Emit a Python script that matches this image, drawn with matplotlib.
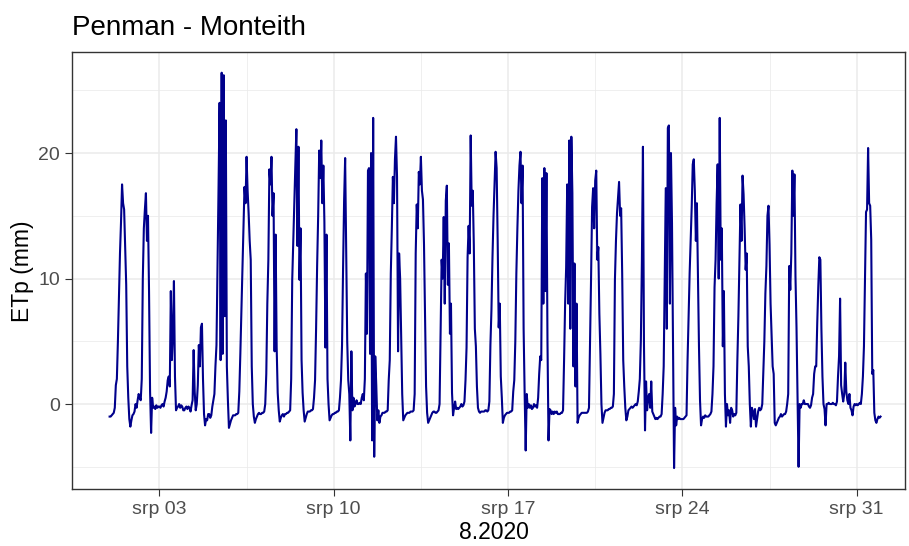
import matplotlib
matplotlib.use("Agg")
import matplotlib.pyplot as plt
import matplotlib.dates as mdates
import pandas as pd
import numpy as np

plt.rcParams['font.family'] = ['Liberation Sans', 'DejaVu Sans']

# Hourly ETp (mm) values, one list per day of August 2020 (hours 0..23)
aug01 = [-1.0,-1.0,-0.9,-0.8,-0.7,-0.3,1.5,2.0,5.0,8.5,12.0,14.5,17.5,16.0,15.5,12.5,9.5,3.0,0.5,-1.2,-1.8,-1.3,-0.9,-0.8]
aug02 = [-0.6,0.0,-0.3,0.3,0.8,0.5,0.3,2.0,10.0,14.0,15.5,16.8,13.0,15.0,9.0,1.0,-2.3,0.5,-0.3,-0.2,-0.4,-0.1,-0.3,-0.2]
aug03 = [-0.2,-0.3,-0.1,0.0,-0.2,0.2,0.5,1.0,1.9,2.2,1.4,9.0,3.5,5.5,9.8,2.2,-0.5,-0.3,-0.2,0.0,-0.3,-0.1,-0.2,-0.5]
aug04 = [-0.5,-0.3,-0.2,-0.4,-0.2,-0.3,-0.6,-0.1,0.3,4.3,1.0,-0.5,0.0,1.5,4.7,3.0,6.1,6.4,2.0,-0.8,-1.7,-1.2,-1.3,-0.8]
aug05 = [-0.8,-1.1,-0.9,-0.2,0.3,0.8,3.0,4.7,10.9,17.3,24.0,3.5,26.4,4.0,26.2,7.0,22.6,3.0,0.3,-1.9,-1.6,-1.3,-1.1,-0.9]
aug06 = [-0.9,-0.9,-0.8,-0.8,-0.7,1.0,4.0,7.5,10.7,14.1,17.3,16.0,19.7,17.0,15.2,13.0,11.5,3.0,0.0,-1.0,-1.5,-1.2,-1.0,-0.8]
aug07 = [-0.7,-0.8,-0.8,-0.7,-0.7,-0.6,0.0,2.4,8.0,11.5,18.7,17.5,19.7,15.0,16.8,4.2,13.5,4.5,0.9,-0.5,-1.4,-1.1,-0.9,-0.8]
aug08 = [-1.0,-0.8,-0.8,-0.7,-0.7,-0.6,-0.5,2.0,9.9,13.0,16.2,19.0,21.9,12.6,20.5,9.9,14.0,3.5,0.9,-0.5,-1.4,-1.1,-0.8,-0.6]
aug09 = [-0.6,-0.6,-0.5,-0.5,-0.4,0.5,1.9,6.0,11.0,15.0,20.2,18.0,21.0,16.0,19.0,14.5,4.5,13.5,2.0,0.0,-1.3,-1.1,-0.9,-0.8]
aug10 = [-0.8,-0.7,-0.7,-0.6,-0.6,-0.5,0.5,1.9,4.7,10.8,16.2,19.6,12.0,5.0,1.9,0.8,-2.9,4.2,-0.5,0.5,-0.2,0.0,0.3,0.0]
aug11 = [0.0,0.1,0.0,0.5,0.8,0.3,2.0,10.4,5.6,18.6,18.8,4.0,20.0,-2.9,22.8,-4.2,3.8,1.5,-1.3,-0.5,-1.5,-1.0,-0.9,-0.7]
aug12 = [-0.7,-0.7,-0.6,-0.6,-0.5,1.9,3.5,10.4,14.0,18.1,16.0,19.5,21.3,18.1,4.2,12.0,10.0,5.5,0.8,-1.3,-1.1,-0.9,-0.8,-0.7]
aug13 = [-0.7,-0.7,-0.6,-0.6,-0.6,-0.5,0.8,12.0,15.9,14.0,18.5,17.5,19.7,17.0,16.3,12.7,7.0,1.4,-0.7,-1.5,-1.3,-1.1,-0.9,-0.7]
aug14 = [-0.6,-0.6,-0.7,-0.7,-0.6,-0.5,0.0,5.6,11.5,10.0,14.9,8.0,16.2,17.4,9.5,12.8,5.6,8.0,0.9,-0.9,-0.3,0.2,-0.4,-0.3]
aug15 = [-0.4,-0.3,-0.2,0.0,-0.2,-0.1,0.2,1.9,4.5,11.7,14.2,12.0,21.4,15.8,17.0,12.7,6.0,4.6,1.4,-0.3,-0.6,-0.7,-0.6,-0.6]
aug16 = [-0.6,-0.6,-0.5,-0.5,-0.6,-0.5,0.2,4.7,7.5,11.7,15.0,17.5,20.1,18.8,13.0,6.1,8.0,2.2,0.5,-1.5,-1.1,-0.9,-0.8,-0.7]
aug17 = [-0.7,-0.7,-0.6,-0.6,-0.5,1.0,1.9,5.0,10.4,14.0,17.0,19.0,20.1,16.0,19.0,6.0,0.8,-3.7,0.8,-0.3,0.0,-0.3,-0.1,-0.4]
aug18 = [-0.3,0.0,-0.2,-0.1,-0.3,0.5,2.4,3.8,3.5,18.0,8.0,18.8,9.0,18.4,5.0,-2.9,-0.4,-0.5,-0.8,-0.6,-0.8,-0.6,-0.7,-0.6]
aug19 = [-0.8,-0.8,-0.8,-0.7,-0.7,-0.5,3.5,8.0,10.9,17.5,8.0,21.0,6.0,21.3,16.8,3.0,11.2,1.4,8.0,-1.5,-1.1,-0.9,-0.8,-0.7]
aug20 = [-0.7,-0.7,-0.7,-0.7,-0.7,-0.6,-0.3,4.7,10.0,15.7,17.2,14.0,17.8,18.6,11.5,12.5,7.2,4.0,0.0,-1.5,-1.1,-0.7,-0.5,-0.5]
aug21 = [-0.5,-0.4,-0.4,-0.3,-0.3,-0.2,0.8,9.9,13.0,15.2,16.5,17.7,15.0,15.6,10.4,3.5,1.4,-0.3,-1.3,-1.0,-0.5,-0.4,-0.3,-0.2]
aug22 = [-0.3,-0.2,-0.1,0.0,-0.1,0.2,1.0,2.0,5.1,11.4,20.5,4.7,-2.1,1.8,-0.5,0.5,0.8,-0.3,1.8,-0.6,-0.8,-1.0,-1.2,-1.1]
aug23 = [-1.2,-1.1,-1.0,-1.0,-0.8,0.8,3.0,10.4,17.2,6.0,22.0,22.2,8.0,20.0,14.4,4.6,-5.1,-0.3,-1.7,-1.0,-1.2,-1.1,-1.2,-1.2]
aug24 = [-1.2,-1.2,-1.1,-1.0,-0.9,3.5,7.0,10.4,13.0,15.7,19.1,19.5,17.0,13.0,16.0,10.4,4.6,0.3,-1.7,-1.2,-1.0,-1.1,-0.9,-1.0]
aug25 = [-1.0,-1.0,-0.9,-0.8,-0.6,0.8,3.0,9.3,11.5,16.0,19.1,10.0,22.8,11.5,14.0,4.6,9.0,0.8,-1.8,0.0,-0.9,-0.5,-1.5,-0.3]
aug26 = [-0.5,-1.0,-0.8,-0.9,-0.7,3.5,7.0,11.7,15.9,13.0,18.2,16.7,14.0,10.7,12.0,4.6,3.0,0.0,-1.8,-0.3,-0.6,-1.2,-0.4,-1.8]
aug27 = [-1.2,-0.6,-0.3,-0.5,-0.4,0.0,2.4,5.0,8.8,11.0,15.0,15.8,12.7,8.0,5.4,3.0,2.4,-1.5,-1.7,-1.5,-1.3,-1.1,-1.0,-0.8]
aug28 = [-1.0,-0.9,-0.8,-0.8,-0.6,0.0,0.8,11.0,9.1,12.0,18.6,15.0,18.3,10.2,6.1,0.8,-5.0,0.0,-0.3,0.0,0.0,0.3,0.0,0.0]
aug29 = [0.0,0.0,-0.2,-0.3,-0.1,0.5,0.8,2.4,3.0,3.0,6.5,9.4,11.7,11.5,6.0,2.2,0.0,-0.4,-1.7,0.0,0.0,0.1,0.0,0.0]
aug30 = [0.0,0.1,0.0,0.0,-0.1,0.2,2.2,3.8,8.4,1.5,0.8,0.2,0.8,3.3,1.0,0.3,0.0,0.8,-0.3,-0.5,-0.9,-0.2,0.0,-0.1]
aug31 = [0.0,-0.1,0.0,0.1,0.0,0.8,2.2,4.6,10.0,15.3,15.5,20.4,16.0,15.8,13.1,2.4,2.7,-0.7,-1.3,-1.5,-1.2,-1.0,-1.1,-1.0]

days = [aug01, aug02, aug03, aug04, aug05, aug06, aug07, aug08, aug09, aug10,
        aug11, aug12, aug13, aug14, aug15, aug16, aug17, aug18, aug19, aug20,
        aug21, aug22, aug23, aug24, aug25, aug26, aug27, aug28, aug29, aug30, aug31]
etp = np.concatenate([np.array(d) for d in days])
times = pd.date_range('2020-08-01 00:00', periods=len(etp), freq='h')

tick_dates = ['2020-08-03', '2020-08-10', '2020-08-17', '2020-08-24', '2020-08-31']
tick_labels = ['srp 03', 'srp 10', 'srp 17', 'srp 24', 'srp 31']
y_ticks = [0, 10, 20]
title = 'Penman - Monteith'
x_title = '8.2020'
y_title = 'ETp (mm)'

W, H = 909, 546
fig = plt.figure(figsize=(W / 100, H / 100), dpi=100)
ax = fig.add_axes([72 / W, 57 / H, 833 / W, 437 / H])
ax.set_facecolor('white')

ax.plot(times, etp, color='#00008B', lw=1.5, zorder=3)

major_x = [mdates.date2num(pd.Timestamp(d)) for d in tick_dates]
ax.set_xticks(major_x)
ax.set_xticklabels(tick_labels)
minor_x = [m - 3.5 for m in major_x] + [major_x[-1] + 3.5]
ax.set_xticks(minor_x, minor=True)
ax.set_yticks(y_ticks)
ax.set_yticks([-5, 5, 15, 25], minor=True)

# axes limits (after ticks so they are not expanded)
x0 = pd.Timestamp('2020-08-03') - pd.Timedelta(days=3.51)
x1 = pd.Timestamp('2020-08-03') + pd.Timedelta(days=29.94)
ax.set_xlim(mdates.date2num(x0), mdates.date2num(x1))
ax.set_ylim(-6.77, 28.05)

ax.grid(which='major', color='#EBEBEB', lw=1.1, zorder=0)
ax.grid(which='minor', color='#EBEBEB', lw=0.55, zorder=0)
ax.set_axisbelow(True)

for s in ax.spines.values():
    s.set_color('#333333')
    s.set_linewidth(1.0)

ax.tick_params(which='major', length=5, width=0.8, color='#333333',
               labelsize=14, labelcolor='#4D4D4D', pad=3.5)
ax.tick_params(which='minor', length=0)

fig.text(72 / W, 1 - 35 / H, title, fontsize=20, ha='left', va='baseline', color='black')
fig.text(494 / W, 1 - 539 / H, x_title, fontsize=16.5, ha='center', va='baseline', color='black')
fig.text(22.5 / W, 1 - 271.5 / H, y_title, fontsize=16.5, ha='center', va='center',
         rotation=90, color='black')

fig.savefig('out.png', dpi=100)
